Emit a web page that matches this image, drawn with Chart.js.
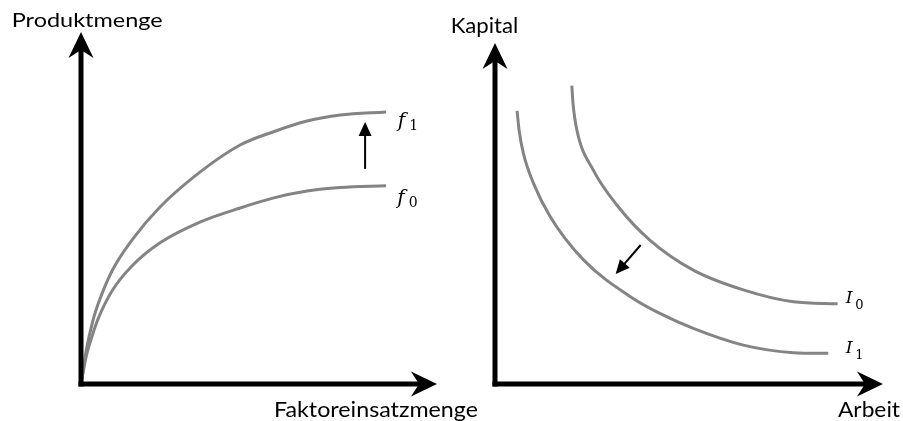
<!DOCTYPE html>
<html>
<head>
<meta charset="utf-8">
<script src="https://cdn.jsdelivr.net/npm/chart.js@4.4.1/dist/chart.umd.min.js"></script>
<style>
html,body{margin:0;padding:0;background:#fff;overflow:hidden}
#wrap{position:relative;width:903px;height:421px;background:#fff}
#wrap canvas{position:absolute;left:0;top:0}
</style>
</head>
<body>
<div id="wrap">
<canvas id="left" width="903" height="421"></canvas>
<canvas id="right" width="903" height="421"></canvas>
</div>
<script>
// ---- Data (axis units 0..10) ----
const faktoreinsatzmenge = [0, 0.15, 0.34, 0.48, 0.87, 1.43, 2.22, 3.34, 4.47, 5.39, 6.35, 7.28, 8.57];
const produktmengeF0     = [0, 0.80, 1.45, 1.85, 2.64, 3.35, 4.01, 4.60, 5.00, 5.28, 5.48, 5.58, 5.63];
const produktmengeF1     = [0, 0.97, 1.82, 2.27, 3.21, 4.09, 5.03, 6.02, 6.79, 7.16, 7.47, 7.64, 7.73];

const arbeitI0  = [1.98, 2.01, 2.11, 2.53, 3.14, 3.99, 5.11, 6.40, 7.69, 8.83];
const kapitalI0 = [8.75, 8.24, 7.45, 6.28, 5.25, 4.22, 3.34, 2.76, 2.41, 2.35];
const arbeitI1  = [0.57, 0.62, 0.73, 0.99, 1.42, 2.28, 3.56, 4.25, 5.11, 6.40, 7.69, 8.59];
const kapitalI1 = [8.01, 7.45, 6.77, 5.89, 4.91, 3.64, 2.51, 2.07, 1.63, 1.14, 0.92, 0.90];

const axisMin = 0, axisMax = 10;

// Curve labels (anchor in data units) and shift arrows (data units)
const labelsLeft  = [{main:'f', sub:'1', x:8.90, y:7.31}, {main:'f', sub:'0', x:8.88, y:5.10}];
const labelsRight = [{main:'I', sub:'0', x:9.04, y:2.37}, {main:'I', sub:'1', x:9.04, y:0.90}];
const arrowLeft  = {from:[7.98, 6.11], to:[7.98, 7.44]};
const arrowRight = {from:[3.755, 4.076], to:[3.11, 3.226]};

// ---- Helpers ----
const pts = (xs, ys) => xs.map((x, i) => ({x, y: ys[i]}));
const CURVE = '#848484';

function curve(xs, ys) {
  return {data: pts(xs, ys), showLine: true, borderColor: CURVE, borderWidth: 3,
          pointRadius: 0, cubicInterpolationMode: 'monotone', fill: false, clip: false};
}

function drawAxes(chart) {
  const {ctx, chartArea: {right, top}, scales: {x, y}} = chart;
  const x0 = x.getPixelForValue(0), y0 = y.getPixelForValue(0);
  const L = 26, W = 12.5, N = 18;
  ctx.save();
  ctx.strokeStyle = '#000'; ctx.fillStyle = '#000'; ctx.lineWidth = 5; ctx.lineCap = 'butt';
  ctx.beginPath(); ctx.moveTo(x0, y0 + 2.5); ctx.lineTo(x0, top + N); ctx.stroke();
  ctx.beginPath(); ctx.moveTo(x0, top); ctx.lineTo(x0 - W, top + L); ctx.lineTo(x0, top + N);
  ctx.lineTo(x0 + W, top + L); ctx.closePath(); ctx.fill();
  ctx.beginPath(); ctx.moveTo(x0 - 2.5, y0); ctx.lineTo(right - N, y0); ctx.stroke();
  ctx.beginPath(); ctx.moveTo(right, y0); ctx.lineTo(right - L, y0 - W); ctx.lineTo(right - N, y0);
  ctx.lineTo(right - L, y0 + W); ctx.closePath(); ctx.fill();
  ctx.restore();
}

function drawArrow(chart, a) {
  const {ctx, scales: {x, y}} = chart;
  const x1 = x.getPixelForValue(a.from[0]), y1 = y.getPixelForValue(a.from[1]);
  const x2 = x.getPixelForValue(a.to[0]),   y2 = y.getPixelForValue(a.to[1]);
  const ang = Math.atan2(y2 - y1, x2 - x1), hl = 14, hw = 6.5;
  const bx = x2 - hl * Math.cos(ang), by = y2 - hl * Math.sin(ang);
  ctx.save();
  ctx.strokeStyle = '#000'; ctx.fillStyle = '#000'; ctx.lineWidth = 2;
  ctx.beginPath(); ctx.moveTo(x1, y1); ctx.lineTo(bx + Math.cos(ang), by + Math.sin(ang)); ctx.stroke();
  ctx.beginPath(); ctx.moveTo(x2, y2);
  ctx.lineTo(bx + hw * Math.sin(ang), by - hw * Math.cos(ang));
  ctx.lineTo(bx - hw * Math.sin(ang), by + hw * Math.cos(ang));
  ctx.closePath(); ctx.fill();
  ctx.restore();
}

function drawMath(chart, lab, st) {
  const {ctx, scales: {x, y}} = chart;
  const px = x.getPixelForValue(lab.x), py = y.getPixelForValue(lab.y);
  ctx.save();
  ctx.fillStyle = '#000'; ctx.textAlign = 'left'; ctx.textBaseline = 'alphabetic';
  ctx.font = st.main; ctx.fillText(lab.main, px, py);
  ctx.font = st.sub;  ctx.fillText(lab.sub, px + st.dx, py + st.dy);
  ctx.restore();
}

function drawFitted(ctx, text, left, right, baseline, cap) {
  const fam = 'Lato, "Open Sans", sans-serif';
  ctx.save();
  ctx.font = '100px ' + fam;
  const capR = ctx.measureText('H').actualBoundingBoxAscent / 100 || 0.72;
  const size = cap / capR;
  ctx.font = size + 'px ' + fam;
  const w = ctx.measureText(text).width;
  ctx.fillStyle = '#000'; ctx.textAlign = 'left'; ctx.textBaseline = 'alphabetic';
  ctx.translate(left, baseline);
  ctx.scale((right - left) / w, 1);
  ctx.fillText(text, 0, 0);
  ctx.restore();
}

const fStyle = {main: 'italic 20px "DejaVu Serif"', sub: '14px "DejaVu Serif"', dx: 11.5, dy: 3};
const iStyle = {main: 'italic 17px "DejaVu Serif"', sub: '13px "DejaVu Serif"', dx: 9.5, dy: 6};

function baseOptions(padding) {
  return {
    responsive: false, animation: false, events: [],
    layout: {padding},
    scales: {
      x: {type: 'linear', min: axisMin, max: axisMax, display: false},
      y: {type: 'linear', min: axisMin, max: axisMax, display: false}
    },
    plugins: {legend: {display: false}, tooltip: {enabled: false}}
  };
}

new Chart(document.getElementById('left'), {
  type: 'scatter',
  data: {datasets: [curve(faktoreinsatzmenge, produktmengeF1), curve(faktoreinsatzmenge, produktmengeF0)]},
  options: baseOptions({left: 81, right: 466, top: 32, bottom: 37}),
  plugins: [{
    id: 'leftDeco',
    afterDatasetsDraw(chart) {
      drawAxes(chart);
      drawArrow(chart, arrowLeft);
      labelsLeft.forEach(l => drawMath(chart, l, fStyle));
      drawFitted(chart.ctx, 'Produktmenge', 11.7, 162.7, 27, 14.5);
      drawFitted(chart.ctx, 'Faktoreinsatzmenge', 274, 478, 416.5, 16);
    }
  }]
});

new Chart(document.getElementById('right'), {
  type: 'scatter',
  data: {datasets: [curve(arbeitI0, kapitalI0), curve(arbeitI1, kapitalI1)]},
  options: baseOptions({left: 495, right: 20, top: 43, bottom: 37}),
  plugins: [{
    id: 'rightDeco',
    afterDatasetsDraw(chart) {
      drawAxes(chart);
      drawArrow(chart, arrowRight);
      labelsRight.forEach(l => drawMath(chart, l, iStyle));
      drawFitted(chart.ctx, 'Kapital', 450.7, 518.3, 33.3, 15.5);
      drawFitted(chart.ctx, 'Arbeit', 838, 900, 417, 15.5);
    }
  }]
});
</script>
</body>
</html>
